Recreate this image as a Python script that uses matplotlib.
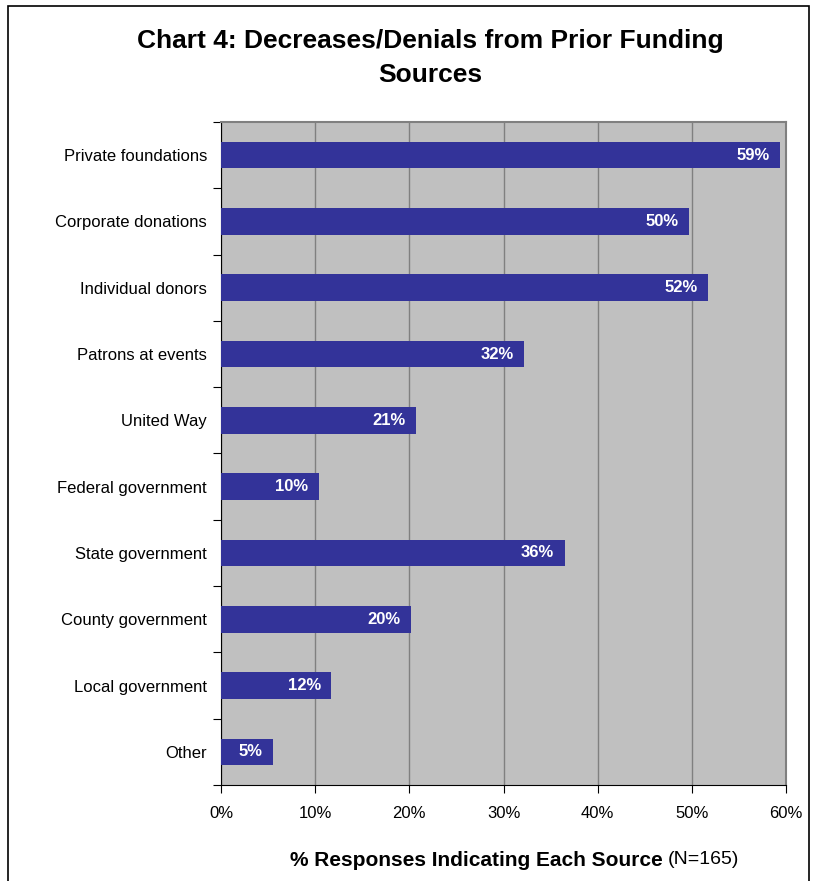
import matplotlib.pyplot as plt
from matplotlib.patches import Rectangle
import numpy as np

plt.rcParams['font.family'] = ['Liberation Sans', 'DejaVu Sans']

sources = ['Private foundations', 'Corporate donations', 'Individual donors',
           'Patrons at events', 'United Way', 'Federal government',
           'State government', 'County government', 'Local government', 'Other']
values = [59.4, 49.7, 51.7, 32.2, 20.7, 10.4, 36.5, 20.2, 11.7, 5.5]
labels = ['59%', '50%', '52%', '32%', '21%', '10%', '36%', '20%', '12%', '5%']
xticks = [0, 10, 20, 30, 40, 50, 60]

fig = plt.figure(figsize=(8.14, 8.81), dpi=100)
ax = fig.add_axes([221/814, 1-785/881, 565/814, 663/881])
ax.set_facecolor('#C0C0C0')

y = np.arange(len(sources))
ax.barh(y, values, height=0.4, color='#333399', zorder=3)
for yi, v, lab in zip(y, values, labels):
    ax.text(v - 1.1, yi, lab, ha='right', va='center', color='white',
            fontsize=12, fontweight='bold', zorder=4)

ax.set_xlim(0, 60)
ax.set_ylim(len(sources) - 0.5, -0.5)
ax.set_xticks(xticks)
ax.set_xticklabels([f'{t}%' for t in xticks], fontsize=12)
ax.xaxis.grid(True, color='#808080', linewidth=1, zorder=1)

ax.set_yticks(np.arange(len(sources) + 1) - 0.5)
ax.set_yticklabels([])
ax.set_yticks(y, minor=True)
ax.set_yticklabels(sources, minor=True, fontsize=12)
ax.tick_params(axis='y', which='minor', length=0, pad=10)
ax.tick_params(axis='y', which='major', length=6, direction='out')
ax.tick_params(axis='x', length=6, direction='out', pad=9)

for s in ['top', 'right']:
    ax.spines[s].set_color('#808080')
    ax.spines[s].set_linewidth(1.5)
for s in ['left', 'bottom']:
    ax.spines[s].set_color('black')

fig.text(430/814, 1-58/881, 'Chart 4: Decreases/Denials from Prior Funding\nSources',
         ha='center', va='center', fontsize=19, fontweight='bold', linespacing=1.5)

fig.text(663/814, 1-860/881, '% Responses Indicating Each Source', ha='right',
         va='center', fontsize=15, fontweight='bold')
fig.text(668/814, 1-860/881, '(N=165)', ha='left', va='center', fontsize=14)

fig.patches.append(Rectangle((8/814, -0.01), 801/814, 1.01 - 6/881,
                             transform=fig.transFigure, fill=False,
                             edgecolor='black', linewidth=1.2))

fig.savefig('out.png', dpi=100)
